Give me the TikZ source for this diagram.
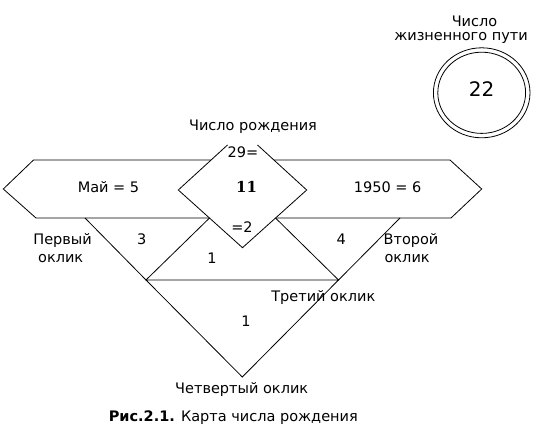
\documentclass[tikz,border=0pt]{standalone}
\usepackage{fontspec}
\setmainfont{DejaVu Sans}
\newfontfamily\numserif{DejaVu Serif}
\begin{document}
\begin{tikzpicture}[x=1pt,y=-1pt,line width=0.8pt,
  lbl/.style={font=\fontsize{14.5}{17}\selectfont,inner sep=0pt,anchor=base},
  lblw/.style={lbl,anchor=base west}]
\useasboundingbox (0,0) rectangle (541,430);
% key points
\coordinate (dL) at (178.3,190);
\coordinate (dR) at (306.7,190);
\coordinate (dB) at (242.5,247.7);
\coordinate (dT) at (242.5,132.3);
\coordinate (dTL) at (227.5,145);
\coordinate (dTR) at (257.5,145);
\coordinate (iL) at (209.5,218);
\coordinate (iR) at (275.5,218);
\coordinate (oL) at (85,218);
\coordinate (oR) at (400,218);
\coordinate (tL) at (146,280);
\coordinate (tR) at (338.5,280);
\coordinate (tB) at (242.3,377);
% hexagons
\draw (3.3,189) -- (33.5,160) -- (242,160) -- (242,218) -- (36,218) -- cycle;
\draw (481.7,189) -- (450,160) -- (242,160) -- (242,218) -- (451,218) -- cycle;
% diamond
\fill[white] (dT) -- (dL) -- (dB) -- (dR) -- cycle;
\draw (dTL) -- (dL) -- (dB) -- (dR) -- (dTR);
% triangles
\draw (oL) -- (tL) -- (iL);
\draw (oR) -- (tR) -- (iR);
\draw (tL) -- (tR) -- (tB) -- cycle;
% circle
\draw (481.7,92.8) ellipse [x radius=48.3,y radius=45];
\draw (481.7,92.8) ellipse [x radius=43.9,y radius=40.6];
% labels
\node[lbl] (lp1) at (474.5,27) {Число};
\node[lbl] (lp2) at (461,40.5) {жизненного пути};
\node[lbl,font=\fontsize{20}{24}\selectfont] (lpn) at (481.7,96.7) {22};
\node[lbl] (br) at (253,130.5) {Число рождения};
\node[lbl] (n29) at (243,158) {29=};
\node[lbl,font=\fontsize{15}{18}\numserif\bfseries] (n11) at (246.5,193) {11};
\node[lbl] (n2) at (242,233) {=2};
\node[lbl] (may) at (108.5,193) {Май = 5};
\node[lbl] (year) at (387.7,193) {1950 = 6};
\node[lbl] (three) at (141.7,245) {3};
\node[lbl] (four) at (341.3,245) {4};
\node[lbl] (p1a) at (62.6,245) {Первый};
\node[lbl] (p1b) at (60.7,263) {оклик};
\node[lblw] (p2a) at (383.2,245) {Второй};
\node[lblw] (p2b) at (384.2,263) {оклик};
\node[lbl] (one1) at (212,264) {1};
\node[lbl] (p3) at (323.3,301.5) {Третий оклик};
\node[lbl] (one2) at (246,326.7) {1};
\node[lbl] (p4) at (241.7,393) {Четвертый оклик};
\node[lbl] (cap) at (233.3,421.5) {\textbf{Рис.2.1.} Карта числа рождения};
\end{tikzpicture}
\end{document}
